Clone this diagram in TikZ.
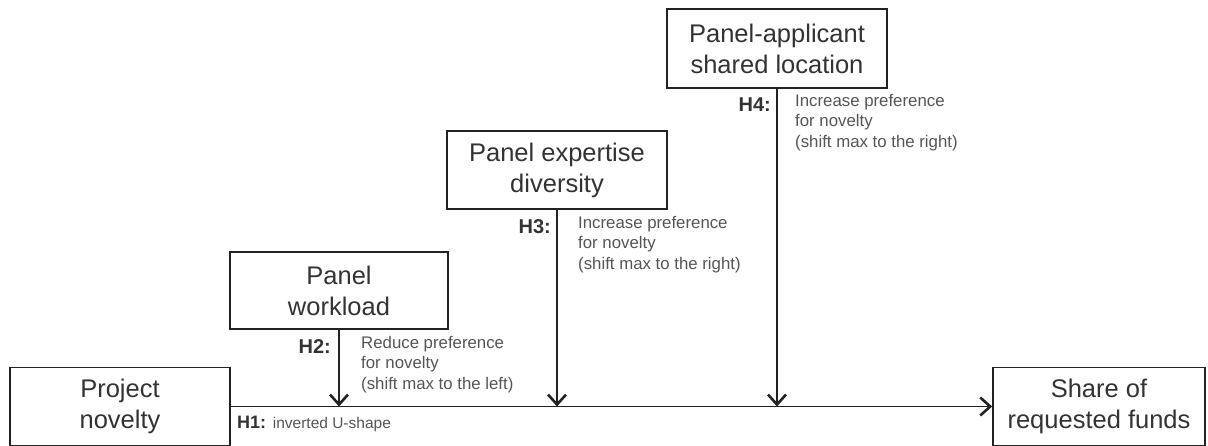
\documentclass[tikz,border=0pt]{standalone}
\usepackage{fontspec}
\setmainfont{Liberation Sans}
\usetikzlibrary{arrows.meta}
\definecolor{boxtext}{HTML}{333333}
\definecolor{smalltext}{HTML}{555555}
\definecolor{linec}{HTML}{222222}
\tikzset{
  varbox/.style={draw=linec, line width=1.6pt, fill=white, minimum width=220pt, minimum height=78pt,
    align=center, text=boxtext, font=\fontsize{25.5}{31}\selectfont, inner sep=0pt},
  hlabel/.style={anchor=east, font=\bfseries\fontsize{20}{22}\selectfont, text=boxtext, inner sep=0pt},
  effect/.style={anchor=north west, align=left, font=\fontsize{16.8}{20.5}\selectfont, text=smalltext, inner sep=0pt},
  conn/.style={draw=linec, line width=1.3pt, -{Straight Barb[length=10pt,width=18pt,line width=2.6pt]}}
}
\begin{document}
\begin{tikzpicture}[x=1pt,y=-1pt]
\useasboundingbox (0,0) rectangle (1208,446);
\node[varbox] (nov) at (120,406.5) {Project\\novelty};
\node[varbox, minimum width=218pt, minimum height=77pt] (work) at (339,290.5) {Panel\\workload};
\node[varbox] (exp) at (557,170) {Panel expertise\\diversity};
\node[varbox, minimum height=79pt] (loc) at (777,48.5) {Panel-applicant\\shared location};
\node[varbox, minimum width=212pt] (share) at (1099,406.5) {Share of\\requested funds};
\coordinate (m2) at (work.south |- nov.east);
\coordinate (m3) at (exp.south |- nov.east);
\coordinate (m4) at (loc.south |- nov.east);
\draw[conn] (nov.east) -- (share.west);
\draw[conn] (work.south) -- (m2);
\draw[conn] (exp.south) -- (m3);
\draw[conn] (loc.south) -- (m4);
\node[hlabel] (h2) at (331,347) {H2:};
\node[effect] (t2) at (361,336) {Reduce preference\\for novelty\\(shift max to the left)};
\node[hlabel] (h3) at (551,227) {H3:};
\node[effect] (t3) at (578,216) {Increase preference\\for novelty\\(shift max to the right)};
\node[hlabel] (h4) at (771,105) {H4:};
\node[effect] (t4) at (795,94) {Increase preference\\for novelty\\(shift max to the right)};
\node[anchor=west, inner sep=0pt, text=boxtext] (h1) at (237,424) {\bfseries\fontsize{18}{20}\selectfont H1: \mdseries\color{smalltext}\fontsize{15.5}{18}\selectfont inverted U-shape};
\end{tikzpicture}
\end{document}
